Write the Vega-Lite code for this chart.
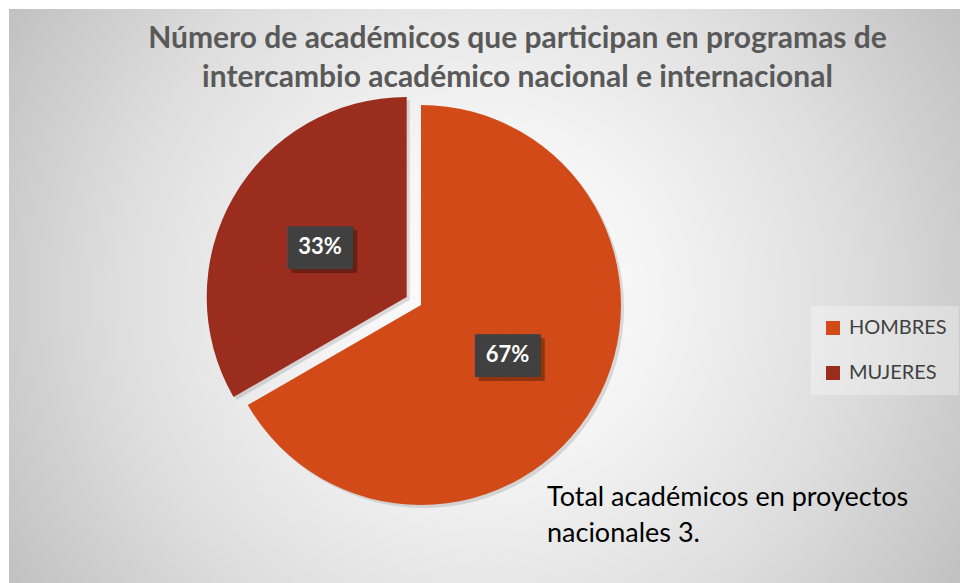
{
  "$schema": "https://vega.github.io/schema/vega-lite/v6.json",
  "width": 963,
  "height": 583,
  "autosize": {"type": "fit", "contains": "padding"},
  "padding": {"left": 9, "top": 9, "right": 3, "bottom": 0},
  "background": "#ffffff",
  "config": {
    "view": {"stroke": null},
    "font": "Lato"
  },
  "title": {
    "text": ["Número de académicos que participan en programas de", "intercambio académico nacional e internacional"],
    "font": "Lato",
    "fontSize": 30,
    "fontWeight": "bold",
    "color": "#595959",
    "anchor": "middle",
    "dx": 33,
    "offset": -84,
    "lineHeight": 39,
    "baseline": "top"
  },
  "resolve": {"scale": {"color": "independent"}, "legend": {"color": "independent"}},
  "layer": [
    {
      "data": {"values": [{"fondo": "nota"}]},
      "mark": {
        "type": "arc", "theta": 0, "theta2": 6.2832, "outerRadius": 560, "clip": true,
        "fill": {
          "gradient": "radial",
          "x1": 0.5, "y1": 0.5, "x2": 0.5, "y2": 0.5,
          "r1": 0, "r2": 0.5,
          "stops": [
            {"offset": 0, "color": "#fdfdfd"},
            {"offset": 0.3, "color": "#f4f4f4"},
            {"offset": 0.65, "color": "#dedede"},
            {"offset": 1, "color": "#c0c0c0"}
          ]
        }
      },
      "encoding": {}
    },
    {
      "data": {"values": [{"fondo": "nota"}]},
      "mark": {"type": "text", "text": " ", "opacity": 0},
      "encoding": {
        "color": {
          "field": "fondo", "type": "nominal",
          "scale": {"range": ["#000000"]},
          "legend": {
            "title": ["Total académicos en proyectos", "nacionales 3."],
            "orient": "none",
            "legendX": 538,
            "legendY": 476,
            "padding": 0,
            "titleFont": "Lato",
            "titleFontSize": 27,
            "titleFontWeight": "normal",
            "titleColor": "#000000",
            "titleLineHeight": 36,
            "titleBaseline": "top",
            "titleLimit": 0,
            "titleAnchor": "start",
            "symbolOpacity": 0,
            "symbolStrokeWidth": 0,
            "symbolSize": 1,
            "labelExpr": "''",
            "labelFontSize": 1
          }
        }
      }
    },
    {
      "data": {
        "values": [
          {"genero": "HOMBRES", "n": 2, "porcentaje": 0.6667},
          {"genero": "MUJERES", "n": 1, "porcentaje": 0.3333}
        ]
      },
      "encoding": {
        "theta": {"field": "n", "type": "quantitative", "stack": true},
        "order": {"field": "genero"}
      },
      "layer": [
        {
          "mark": {"type": "arc", "outerRadius": 200, "fill": "#000000", "xOffset": -60.5, "yOffset": 12},
          "encoding": {
            "detail": {"field": "genero"},
            "opacity": {"condition": {"test": "datum.genero === 'HOMBRES'", "value": 0.12}, "value": 0}
          }
        },
        {
          "mark": {"type": "arc", "outerRadius": 200, "fill": "#000000", "xOffset": -74.8, "yOffset": 4},
          "encoding": {
            "detail": {"field": "genero"},
            "opacity": {"condition": {"test": "datum.genero === 'MUJERES'", "value": 0.12}, "value": 0}
          }
        },
        {
          "mark": {"type": "arc", "outerRadius": 200, "xOffset": -63.5, "yOffset": 9},
          "encoding": {
            "color": {
              "field": "genero", "type": "nominal",
              "scale": {"domain": ["HOMBRES", "MUJERES"], "range": ["#D24A18", "#9B2D1F"]},
              "legend": {
                "title": null,
                "orient": "none",
                "legendX": 802,
                "legendY": 297,
                "padding": 12,
                "fillColor": "rgba(255,255,255,0.3)",
                "symbolType": "square",
                "symbolSize": 196,
                "symbolStrokeWidth": 0,
                "labelFont": "Lato",
                "labelFontSize": 20,
                "labelColor": "#404040",
                "labelOffset": 6,
                "rowPadding": 25
              }
            },
            "opacity": {"condition": {"test": "datum.genero === 'HOMBRES'", "value": 1}, "value": 0}
          }
        },
        {
          "mark": {"type": "arc", "outerRadius": 200, "xOffset": -77.8, "yOffset": 1},
          "encoding": {
            "color": {"field": "genero", "type": "nominal"},
            "opacity": {"condition": {"test": "datum.genero === 'MUJERES'", "value": 1}, "value": 0}
          }
        },
        {
          "mark": {"type": "text", "radius": 100, "font": "DejaVu Sans Mono", "fontSize": 36, "baseline": "middle", "align": "center", "fill": "#000000", "xOffset": -59.5, "yOffset": 15},
          "encoding": {
            "detail": {"field": "genero"},
            "text": {"value": "███"},
            "opacity": {"condition": {"test": "datum.genero === 'HOMBRES'", "value": 0.3}, "value": 0}
          }
        },
        {
          "mark": {"type": "text", "radius": 100, "font": "DejaVu Sans Mono", "fontSize": 36, "baseline": "middle", "align": "center", "fill": "#000000", "xOffset": -73.8, "yOffset": 7},
          "encoding": {
            "detail": {"field": "genero"},
            "text": {"value": "███"},
            "opacity": {"condition": {"test": "datum.genero === 'MUJERES'", "value": 0.3}, "value": 0}
          }
        },
        {
          "mark": {"type": "text", "radius": 100, "font": "DejaVu Sans Mono", "fontSize": 36, "baseline": "middle", "align": "center", "fill": "#404040", "xOffset": -63.5, "yOffset": 11},
          "encoding": {
            "detail": {"field": "genero"},
            "text": {"value": "███"},
            "opacity": {"condition": {"test": "datum.genero === 'HOMBRES'", "value": 1}, "value": 0}
          }
        },
        {
          "mark": {"type": "text", "radius": 100, "font": "DejaVu Sans Mono", "fontSize": 36, "baseline": "middle", "align": "center", "fill": "#404040", "xOffset": -77.8, "yOffset": 3},
          "encoding": {
            "detail": {"field": "genero"},
            "text": {"value": "███"},
            "opacity": {"condition": {"test": "datum.genero === 'MUJERES'", "value": 1}, "value": 0}
          }
        },
        {
          "mark": {"type": "text", "radius": 100, "font": "Lato", "fontSize": 22, "fontWeight": "bold", "baseline": "middle", "align": "center", "fill": "#ffffff", "xOffset": -63.5, "yOffset": 9},
          "encoding": {
            "detail": {"field": "genero"},
            "text": {"field": "porcentaje", "type": "quantitative", "format": ".0%"},
            "opacity": {"condition": {"test": "datum.genero === 'HOMBRES'", "value": 1}, "value": 0}
          }
        },
        {
          "mark": {"type": "text", "radius": 100, "font": "Lato", "fontSize": 22, "fontWeight": "bold", "baseline": "middle", "align": "center", "fill": "#ffffff", "xOffset": -77.8, "yOffset": 1},
          "encoding": {
            "detail": {"field": "genero"},
            "text": {"field": "porcentaje", "type": "quantitative", "format": ".0%"},
            "opacity": {"condition": {"test": "datum.genero === 'MUJERES'", "value": 1}, "value": 0}
          }
        }
      ]
    }
  ]
}
